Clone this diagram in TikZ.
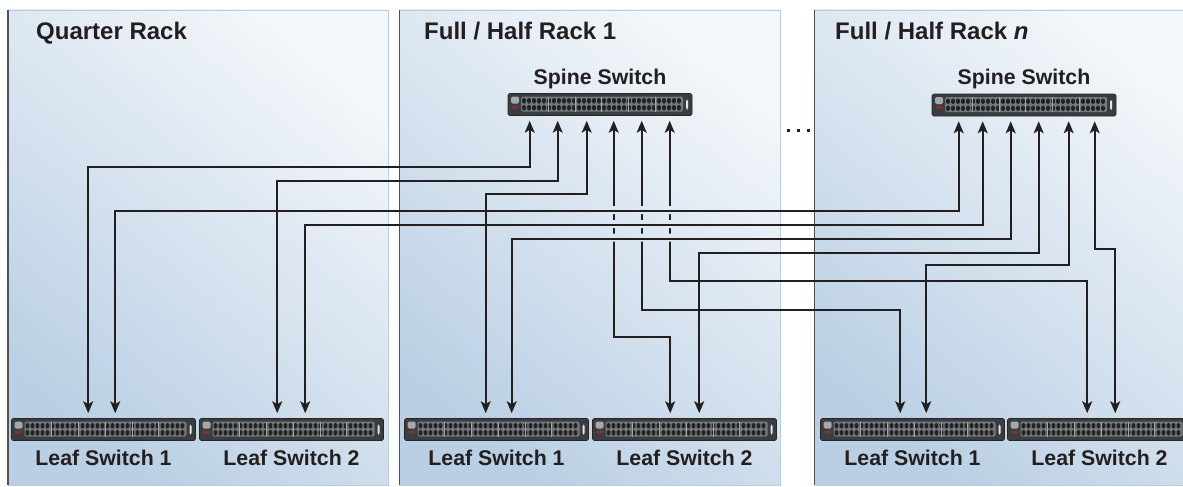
\documentclass[tikz,border=0pt]{standalone}
\usepackage{fontspec}
\setmainfont{Liberation Sans}
\usetikzlibrary{arrows.meta,calc}
\definecolor{ink}{HTML}{231F20}
\definecolor{pdark}{HTML}{BACFE4}
\definecolor{plight}{HTML}{F3F6FA}
\definecolor{prim}{HTML}{B9CDE1}
\definecolor{pedge}{HTML}{4E5256}
\definecolor{swbody}{HTML}{3A3D40}
\definecolor{swgrid}{HTML}{74787C}
\definecolor{swcell}{HTML}{222325}
\definecolor{swlogo}{HTML}{A4A8AC}
\definecolor{swred}{HTML}{7E3333}
\tikzset{
  x=1pt, y=-1pt,
  panelshade/.style={top color=plight, bottom color=pdark, shading angle=-40},
  panelrim/.style={draw=prim, line width=0.9pt},
  paneledge/.style={draw=pedge, line width=1.6pt},
  racktitle/.style={font=\fontsize{24}{28}\selectfont\bfseries, text=ink, inner sep=0pt, anchor=base west},
  swlabel/.style={font=\fontsize{21.3}{25}\selectfont\bfseries, text=ink, inner sep=0pt, anchor=base},
  switchbox/.style={rectangle, minimum width=184pt, minimum height=22pt, inner sep=0pt,
    draw=black!85, line width=0.6pt, fill=swbody, rounded corners=1.5pt,
    path picture={
      \path (path picture bounding box.north west) coordinate (ppnw)
            (path picture bounding box.north east) coordinate (ppne);
      \fill[swgrid] ([xshift=13pt,yshift=-3pt]ppnw) rectangle ([xshift=-9pt,yshift=-18pt]ppne);
      \foreach \k in {0,...,31}{
        \fill[swcell] ([xshift={14pt+\k*5pt},yshift=-4.5pt]ppnw) rectangle ++(3.9pt,-5.5pt);
        \fill[swcell] ([xshift={14pt+\k*5pt},yshift=-11.5pt]ppnw) rectangle ++(3.9pt,-5.5pt);
      }
      \foreach \k in {1,...,5}{
        \draw[swlogo, line width=0.5pt] ([xshift={13.5pt+\k*26.7pt},yshift=-3pt]ppnw) -- ++(0pt,-15pt);
      }
      \fill[swlogo] ([xshift=3pt,yshift=-3pt]ppnw) rectangle ++(8pt,-7pt);
      \fill[swred] ([xshift=3pt,yshift=-12pt]ppnw) rectangle ++(8pt,-3pt);
      \fill[white!80!gray] ([xshift=-6pt,yshift=-6pt]ppne) rectangle ++(2pt,-10pt);
    }},
  conn/.style={draw=ink, line width=1.7pt, arrows={Stealth[length=12pt,width=10pt,inset=3pt]-Stealth[length=12pt,width=10pt,inset=3pt]}},
  dotmark/.style={fill=ink}
}
\begin{document}
\begin{tikzpicture}
\useasboundingbox (0,0) rectangle (1183,487);
\clip (0,0) rectangle (1183,487);
\fill[white] (0,0) rectangle (1183,487);

% panels
\shade[panelshade] (8,10) rectangle (388,485);
\draw[panelrim] (8,10) -- (388,10) -- (388,485) -- (8,485);
\draw[paneledge] (8,10) -- (8,485);

\shade[panelshade] (399.5,10) rectangle (780,485);
\draw[panelrim] (399.5,10) -- (780,10) -- (780,485) -- (399.5,485);
\draw[paneledge] (399.5,10) -- (399.5,485);

\shade[panelshade] (814.5,10) rectangle (1200,485);
\draw[panelrim] (814.5,10) -- (1200,10);
\draw[panelrim] (814.5,485) -- (1200,485);
\draw[paneledge] (814.5,10) -- (814.5,485);

% ellipsis between racks
\fill[dotmark] (786.5,128.5) rectangle (789.5,131.5);
\fill[dotmark] (796.5,128.5) rectangle (799.5,131.5);
\fill[dotmark] (806.5,128.5) rectangle (809.5,131.5);

% titles
\node[racktitle] (t1) at (36,40) {Quarter Rack};
\node[racktitle] (t2) at (424,40) {Full / Half Rack 1};
\node[racktitle] (t3) at (835,40) {Full / Half Rack \textit{n}};

% spine switches
\node[switchbox] (s1) at (600,104.5) {};
\node[switchbox] (s2) at (1024,105) {};
\node[swlabel] (s1t) at ([yshift=9pt]s1.north) {Spine Switch};
\node[swlabel] (s2t) at ([yshift=9pt]s2.north) {Spine Switch};

% leaf switches
\node[switchbox] (ql1) at (103.5,429.5) {};
\node[switchbox] (ql2) at (291.5,429.5) {};
\node[switchbox] (al1) at (496.5,429.5) {};
\node[switchbox] (al2) at (684.5,429.5) {};
\node[switchbox] (bl1) at (912.5,429.5) {};
\node[switchbox] (bl2) at (1099.5,429.5) {};
\foreach \n/\t in {ql1/Leaf Switch 1, ql2/Leaf Switch 2, al1/Leaf Switch 1, al2/Leaf Switch 2, bl1/Leaf Switch 1, bl2/Leaf Switch 2}{
  \node[swlabel] (\n t) at ([yshift=-25pt]\n.south) {\t};
}

% spine ports
\foreach \p/\o in {a/22, b/50, c/79, d/106, e/134, f/162}{
  \coordinate (s1\p) at ([xshift=\o pt,yshift=-5pt]s1.south west);
}
\foreach \p/\o in {a/27, b/51, c/79, d/107, e/137, f/163}{
  \coordinate (s2\p) at ([xshift=\o pt,yshift=-5pt]s2.south west);
}
% leaf ports
\coordinate (ql1a) at ([xshift=77pt,yshift=5pt]ql1.north west);
\coordinate (ql1b) at ([xshift=104pt,yshift=5pt]ql1.north west);
\coordinate (ql2a) at ([xshift=78pt,yshift=5pt]ql2.north west);
\coordinate (ql2b) at ([xshift=106pt,yshift=5pt]ql2.north west);
\coordinate (al1a) at ([xshift=81.5pt,yshift=5pt]al1.north west);
\coordinate (al1b) at ([xshift=107.5pt,yshift=5pt]al1.north west);
\coordinate (al2a) at ([xshift=78pt,yshift=5pt]al2.north west);
\coordinate (al2b) at ([xshift=107pt,yshift=5pt]al2.north west);
\coordinate (bl1a) at ([xshift=80pt,yshift=5pt]bl1.north west);
\coordinate (bl1b) at ([xshift=106pt,yshift=5pt]bl1.north west);
\coordinate (bl2a) at ([xshift=80pt,yshift=5pt]bl2.north west);
\coordinate (bl2b) at ([xshift=108pt,yshift=5pt]bl2.north west);

% connectors (first layer)
\draw[conn] (ql1a) |- ([yshift=-46pt]s1a) -- (s1a);
\draw[conn] (ql2a) |- ([yshift=-60pt]s1b) -- (s1b);
\draw[conn] (al1a) |- ([yshift=-73pt]s1c) -- (s1c);
\draw[conn] (al2a) |- ([yshift=-216pt]s1d) -- (s1d);
\draw[conn] (bl1a) |- ([yshift=-189pt]s1e) -- (s1e);
\draw[conn] (bl2a) |- ([yshift=-160pt]s1f) -- (s1f);
\draw[conn] (al2b) |- ([yshift=-132pt]s2d) -- (s2d);
\draw[conn] (bl1b) |- ([yshift=-144pt]s2e) -- (s2e);
\draw[conn] (bl2b) |- ([yshift=-128pt]s2f) -- (s2f);

% gaps in the vertical lines where the long links pass
\begin{scope}
  \clip (611,206) rectangle (617,214)   (639,206) rectangle (645,214)   (667,206) rectangle (673,214)
        (611,220) rectangle (617,228)   (639,220) rectangle (645,228)   (667,220) rectangle (673,228)
        (611,233.5) rectangle (617,241.5) (639,233.5) rectangle (645,241.5) (667,233.5) rectangle (673,241.5);
  \shade[panelshade] (399.5,10) rectangle (780,485);
\end{scope}

% connectors (upper layer)
\draw[conn] (ql1b) |- ([yshift=-90pt]s2a) -- (s2a);
\draw[conn] (ql2b) |- ([yshift=-104pt]s2b) -- (s2b);
\draw[conn] (al1b) |- ([yshift=-117.5pt]s2c) -- (s2c);
\end{tikzpicture}
\end{document}
